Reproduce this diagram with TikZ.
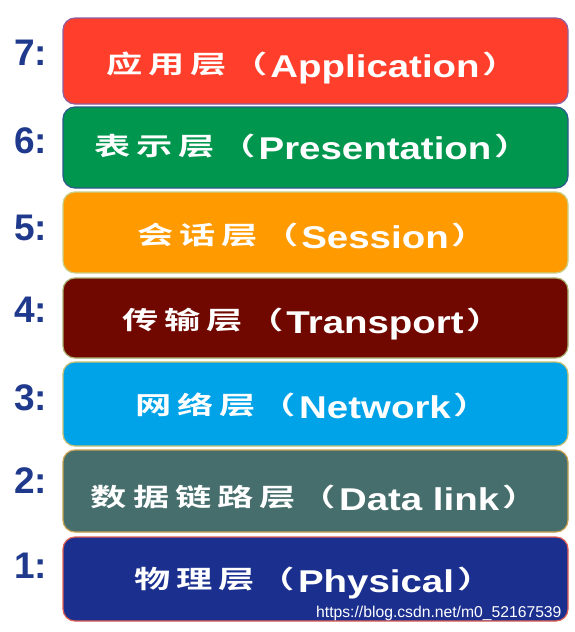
\documentclass[tikz,border=0pt]{standalone}
\usepackage{fontspec}
\usepackage{graphicx}
\setmainfont{Liberation Sans}
\newfontfamily\cjk{Noto Sans CJK SC}[BoldFont={* Bold}]
\newcommand\cn[1]{\raisebox{4pt}{\scalebox{1.45}[1]{\cjk\bfseries\fontsize{25}{25}\selectfont #1}}}
\newcommand\en[1]{\scalebox{1.22}[1]{\bfseries\fontsize{31.5}{32}\selectfont #1}}
\newcommand\gp{\hspace{4pt}}
\newcommand\lab[2]{\cn{#1\hspace{3pt}（}\hspace{3pt}\en{#2}\hspace{3pt}\cn{）\hspace{-12pt}}}
\definecolor{numblue}{HTML}{1F3A8C}
\definecolor{c7}{HTML}{FF3F2B}\definecolor{e7}{HTML}{8E5FA0}
\definecolor{c6}{HTML}{00964E}\definecolor{e6}{HTML}{2C5A8C}
\definecolor{c5}{HTML}{FF9A00}\definecolor{e5}{HTML}{C8D08A}
\definecolor{c4}{HTML}{700800}\definecolor{e4}{HTML}{A8B070}
\definecolor{c3}{HTML}{00A3E8}\definecolor{e3}{HTML}{C8C070}
\definecolor{c2}{HTML}{466E6C}\definecolor{e2}{HTML}{C8A050}
\definecolor{c1}{HTML}{1B2F8F}\definecolor{e1}{HTML}{E06050}
\tikzset{
  layerbox/.style={draw, line width=1.2pt, rounded corners=12pt, minimum width=505pt, inner sep=0pt},
  layertext/.style={text=white, anchor=base, inner sep=0pt},
  numlabel/.style={text=numblue, anchor=base west, inner sep=0pt, font=\bfseries\fontsize{37}{37}\selectfont},
}
\begin{document}
\begin{tikzpicture}[x=1pt,y=-1pt]
\fill[white] (0,0) rectangle (574,632);
\useasboundingbox (0,0) rectangle (574,632);
% boxes
\node[layerbox, fill=c7, draw=e7, minimum height=86pt] (b7) at (315.5,61) {};
\node[layerbox, fill=c6, draw=e6, minimum height=81pt] (b6) at (315.5,147.5) {};
\node[layerbox, fill=c5, draw=e5, minimum height=81pt] (b5) at (315.5,232.5) {};
\node[layerbox, fill=c4, draw=e4, minimum height=80pt] (b4) at (315.5,318) {};
\node[layerbox, fill=c3, draw=e3, minimum height=84pt] (b3) at (315.5,404) {};
\node[layerbox, fill=c2, draw=e2, minimum height=82pt] (b2) at (315.5,491) {};
\node[layerbox, fill=c1, draw=e1, minimum height=84pt] (b1) at (315.5,579) {};
% texts
\node[layertext] (t7) at (304,77) {\lab{应\gp 用\gp 层}{Application}};
\node[layertext] (t6) at (304,159) {\lab{表\gp 示\gp 层}{Presentation}};
\node[layertext] (t5) at (304,248) {\lab{会\gp 话\gp 层}{Session}};
\node[layertext] (t4) at (304,333) {\lab{传\gp 输\gp 层}{Transport}};
\node[layertext] (t3) at (304,418) {\lab{网\gp 络\gp 层}{Network}};
\node[layertext] (t2) at (306,510) {\lab{数\gp 据\gp 链\gp 路\gp 层}{Data link}};
\node[layertext] (t1) at (305,592) {\lab{物\gp 理\gp 层}{Physical}};
% numbers
\node[numlabel] (n7) at (14,65) {7:};
\node[numlabel] (n6) at (14,153) {6:};
\node[numlabel] (n5) at (14,240) {5:};
\node[numlabel] (n4) at (14,322) {4:};
\node[numlabel] (n3) at (14,410) {3:};
\node[numlabel] (n2) at (14,493) {2:};
\node[numlabel] (n1) at (14,578) {1:};
% watermark
\node[anchor=base west, inner sep=0pt, text=white, font=\fontsize{15.7}{16}\selectfont] (wm) at (316,617) {https://blog.csdn.net/m0\_52167539};
\end{tikzpicture}
\end{document}
